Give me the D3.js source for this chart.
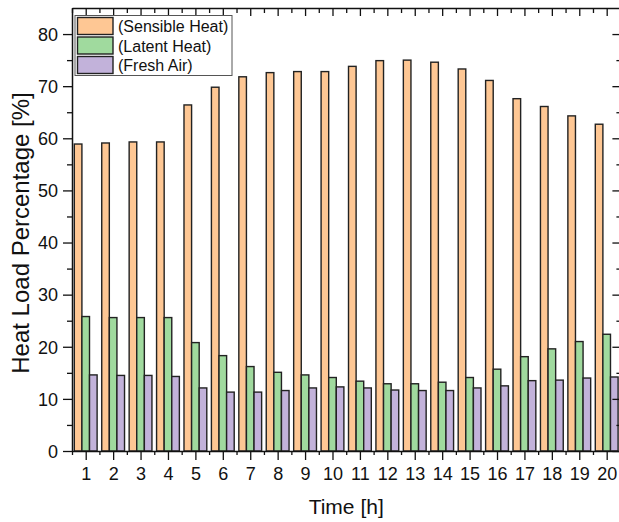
<!DOCTYPE html>
<html>
<head>
<meta charset="utf-8">
<script src="https://cdn.jsdelivr.net/npm/d3@7"></script>
<style>
  html, body { margin: 0; padding: 0; background: #fff; }
  svg { display: block; font-family: "Liberation Sans", Arial, sans-serif; }
</style>
</head>
<body>
<svg id="chart" width="619" height="522"></svg>
<script>
// ---- data ----
const hours = ["1","2","3","4","5","6","7","8","9","10","11","12","13","14","15","16","17","18","19","20"];
const seriesNames = ["(Sensible Heat)", "(Latent Heat)", "(Fresh Air)"];
const sensibleHeat = [58.9, 59.1, 59.3, 59.3, 66.4, 69.8, 71.8, 72.6, 72.8, 72.8, 73.8, 74.9, 75.0, 74.6, 73.3, 71.1, 67.6, 66.1, 64.3, 62.7];
const latentHeat   = [25.8, 25.6, 25.6, 25.6, 20.8, 18.3, 16.2, 15.1, 14.6, 14.1, 13.4, 12.9, 12.9, 13.2, 14.1, 15.7, 18.1, 19.6, 21.0, 22.4];
const freshAir     = [14.6, 14.5, 14.5, 14.3, 12.1, 11.3, 11.3, 11.6, 12.1, 12.3, 12.1, 11.7, 11.6, 11.6, 12.1, 12.5, 13.5, 13.6, 14.0, 14.2];
const yMajorTicks = [0, 10, 20, 30, 40, 50, 60, 70, 80];
const yMinorTicks = [5, 15, 25, 35, 45, 55, 65, 75, 85];
const colors = ["#FEC794", "#A0DA9E", "#C2B2DA"];

const values = [sensibleHeat, latentHeat, freshAir];

// ---- layout ----
const svg = d3.select("#chart");
const L = 72, R = 620.4, T = 8, B = 451;

const x = d3.scaleBand().domain(hours).range([L, R]).paddingInner(0).paddingOuter(0);
const xSub = d3.scaleBand().domain(seriesNames).range([0, x.bandwidth()]).paddingInner(0).paddingOuter(0.304);
const y = d3.scaleLinear().domain([0, 85]).range([B, T]);

// ---- bars ----
const rows = [];
hours.forEach((h, i) => seriesNames.forEach((s, j) => rows.push({h, s, j, v: values[j][i]})));

svg.append("g").selectAll("rect").data(rows).join("rect")
  .attr("x", d => x(d.h) + xSub(d.s))
  .attr("y", d => y(d.v))
  .attr("width", xSub.bandwidth())
  .attr("height", d => y(0) - y(d.v))
  .attr("fill", d => colors[d.j])
  .attr("stroke", "#222")
  .attr("stroke-width", 1.4);

// ---- axes ----
const xCenters = hours.map(h => x(h) + x.bandwidth() / 2);
const xMinor = hours.map(h => x(h)).concat([x(hours[hours.length - 1]) + x.bandwidth()]);
const xLin = d3.scaleLinear().domain([L, R]).range([L, R]);

function styleAxis(g) {
  g.selectAll("path.domain").attr("stroke", "#111").attr("stroke-width", 1.5);
  g.selectAll(".tick line").attr("stroke", "#111").attr("stroke-width", 1.3);
}

// bottom
const gB = svg.append("g").attr("transform", `translate(0,${B})`)
  .call(d3.axisBottom(xLin).tickValues(xCenters).tickSize(9).tickSizeOuter(0).tickFormat((d, i) => hours[i]));
gB.selectAll(".tick text").attr("font-size", 18).attr("font-family", "Liberation Sans, Arial, sans-serif")
  .attr("fill", "#111").attr("y", 29).attr("dy", 0);
styleAxis(gB);
const gBm = svg.append("g").attr("transform", `translate(0,${B})`)
  .call(d3.axisBottom(xLin).tickValues(xMinor).tickSize(4).tickSizeOuter(0).tickFormat(""));
gBm.select("path.domain").remove();
styleAxis(gBm);

// top
const gT = svg.append("g").attr("transform", `translate(0,${T})`)
  .call(d3.axisBottom(xLin).tickValues(xCenters).tickSize(8).tickSizeOuter(0).tickFormat(""));
styleAxis(gT);
const gTm = svg.append("g").attr("transform", `translate(0,${T})`)
  .call(d3.axisBottom(xLin).tickValues(xMinor).tickSize(5).tickSizeOuter(0).tickFormat(""));
gTm.select("path.domain").remove();
styleAxis(gTm);

// left
const gL = svg.append("g").attr("transform", `translate(${L},0)`)
  .call(d3.axisLeft(y).tickValues(yMajorTicks).tickSize(9).tickSizeOuter(0).tickFormat(d3.format("d")));
gL.selectAll(".tick text").attr("font-size", 18).attr("font-family", "Liberation Sans, Arial, sans-serif")
  .attr("fill", "#111").attr("x", -14).attr("dy", "0.35em");
styleAxis(gL);
const gLm = svg.append("g").attr("transform", `translate(${L},0)`)
  .call(d3.axisLeft(y).tickValues(yMinorTicks.filter(v => v < 85)).tickSize(5).tickSizeOuter(0).tickFormat(""));
gLm.select("path.domain").remove();
styleAxis(gLm);

// right
const gR = svg.append("g").attr("transform", `translate(${R},0)`)
  .call(d3.axisLeft(y).tickValues(yMajorTicks).tickSize(8).tickSizeOuter(0).tickFormat(""));
gR.selectAll(".tick line").attr("x2", -8);
styleAxis(gR);
gR.selectAll(".tick line").attr("x1", 0).attr("x2", -8);
const gRm = svg.append("g").attr("transform", `translate(${R},0)`)
  .call(d3.axisLeft(y).tickValues(yMinorTicks.filter(v => v < 85)).tickSize(4).tickSizeOuter(0).tickFormat(""));
gRm.select("path.domain").remove();
styleAxis(gRm);
gRm.selectAll(".tick line").attr("x1", 0).attr("x2", -4);

// ---- titles ----
svg.append("text")
  .attr("x", (L + R) / 2).attr("y", 514)
  .attr("text-anchor", "middle").attr("font-size", 21).attr("fill", "#111")
  .text("Time [h]");

svg.append("text")
  .attr("transform", `translate(29,233) rotate(-90)`)
  .attr("text-anchor", "middle").attr("font-size", 24).attr("fill", "#111")
  .text("Heat Load Percentage [%]");

// ---- legend ----
const lg = svg.append("g").attr("transform", "translate(75,15.5)");
lg.append("rect").attr("x", 0).attr("y", 0).attr("width", 157).attr("height", 60)
  .attr("fill", "#fff").attr("stroke", "#555").attr("stroke-width", 1);
seriesNames.forEach((s, j) => {
  lg.append("rect").attr("x", 2.5).attr("y", 2 + j * 19.5).attr("width", 35.5).attr("height", 17)
    .attr("fill", colors[j]).attr("stroke", "#222").attr("stroke-width", 1.4);
  lg.append("text").attr("x", 43).attr("y", 16.5 + j * 19.5)
    .attr("font-size", 16).attr("fill", "#111").text(s);
});
</script>
</body>
</html>
